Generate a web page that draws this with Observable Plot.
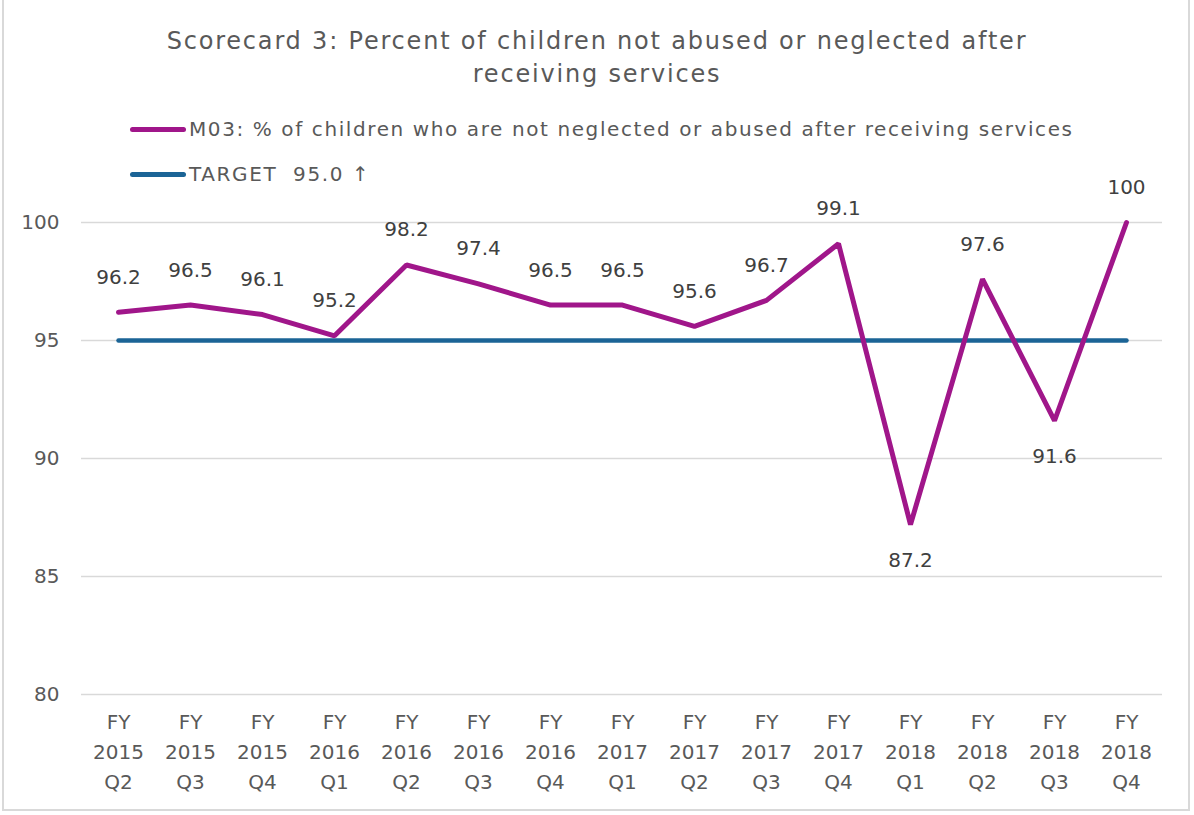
<!DOCTYPE html>
<html>
<head>
<meta charset="utf-8">
<script src="https://cdn.jsdelivr.net/npm/d3@7"></script>
<script src="https://cdn.jsdelivr.net/npm/@observablehq/plot@0.6"></script>
<style>
  html, body { margin: 0; padding: 0; background: #fff; }
  body { width: 1194px; height: 815px; position: relative; overflow: hidden; font-family: "DejaVu Sans", sans-serif; color: #595959; }
  #frame { position: absolute; left: 2px; top: -2px; width: 1188px; height: 813px; border: 2px solid #d9d9d9; box-sizing: border-box; }
  #title { position: absolute; left: 0; width: 1194px; top: 25px; text-align: center; font-size: 24px; line-height: 33px; letter-spacing: 1.8px; }
  .leg { position: absolute; left: 130px; font-size: 20px; display: flex; align-items: center; white-space: nowrap; letter-spacing: 1.6px; }
  .leg .sw { width: 56px; height: 5px; border-radius: 3px; margin-right: 3px; }
  #chart { position: absolute; left: 0; top: 150px; }
</style>
</head>
<body>
<div id="frame"></div>
<div id="title">Scorecard 3: Percent of children not abused or neglected after<br>receiving services</div>
<div class="leg" style="top:117px"><div class="sw" style="background:#A0168A"></div>M03: % of children who are not neglected or abused after receiving services</div>
<div class="leg" style="top:162px"><div class="sw" style="background:#1B6496"></div>TARGET&nbsp; 95.0 ↑</div>
<div id="chart"></div>
<script>
const quarters = ["FY\n2015\nQ2","FY\n2015\nQ3","FY\n2015\nQ4","FY\n2016\nQ1","FY\n2016\nQ2","FY\n2016\nQ3","FY\n2016\nQ4","FY\n2017\nQ1","FY\n2017\nQ2","FY\n2017\nQ3","FY\n2017\nQ4","FY\n2018\nQ1","FY\n2018\nQ2","FY\n2018\nQ3","FY\n2018\nQ4"];
const m03 = [96.2, 96.5, 96.1, 95.2, 98.2, 97.4, 96.5, 96.5, 95.6, 96.7, 99.1, 87.2, 97.6, 91.6, 100];
const target = [95, 95, 95, 95, 95, 95, 95, 95, 95, 95, 95, 95, 95, 95, 95];
const labelPos = ["above","above","above","above","above","above","above","above","above","above","above","below","above","below","above"];
const yTicks = [80, 85, 90, 95, 100];

const rows = quarters.map((q, i) => ({q, v: m03[i], t: target[i], pos: labelPos[i]}));

const chart = Plot.plot({
  width: 1194,
  height: 660,
  marginTop: 72,
  marginBottom: 116,
  marginLeft: 81,
  marginRight: 32,
  style: {fontFamily: "DejaVu Sans, sans-serif", fontSize: "20px", color: "#595959", background: "transparent", overflow: "visible"},
  x: {type: "point", domain: quarters, padding: 0.5, label: null},
  y: {domain: [80, 100], ticks: yTicks, label: null},
  marks: [
    Plot.gridY(yTicks, {stroke: "#d9d9d9", strokeOpacity: 1, strokeWidth: 1.5}),
    Plot.axisY(yTicks, {tickSize: 0, tickPadding: 22, fontSize: 20, fill: "#595959", label: null}),
    Plot.axisX({tickSize: 0, tickPadding: 13, fontSize: 20, fill: "#595959", lineHeight: 1.5, label: null}),
    Plot.line(rows, {x: "q", y: "t", stroke: "#1B6496", strokeWidth: 4.5}),
    Plot.line(rows, {x: "q", y: "v", stroke: "#A0168A", strokeWidth: 5, strokeLinejoin: "miter"}),
    Plot.text(rows.filter(d => d.pos === "above"), {x: "q", y: "v", text: d => String(d.v), dy: -35, fontSize: 20, fill: "#404040"}),
    Plot.text(rows.filter(d => d.pos === "below"), {x: "q", y: "v", text: d => String(d.v), dy: 36, fontSize: 20, fill: "#404040"})
  ]
});
document.getElementById("chart").appendChild(chart);
</script>
</body>
</html>
